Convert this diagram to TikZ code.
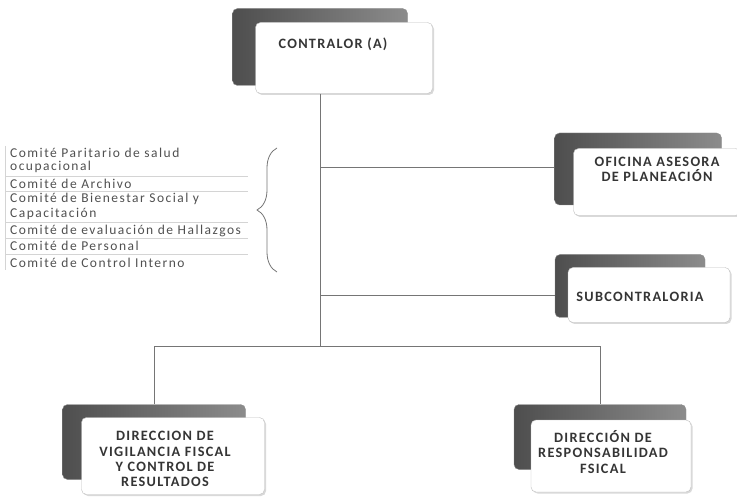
\documentclass[tikz,border=0pt]{standalone}
\usepackage{fontspec}
\setmainfont{Carlito}
\newfontfamily\titlefont[LetterSpace=9]{Carlito}
\newfontfamily\listfont[LetterSpace=11]{Carlito}
\usetikzlibrary{positioning, calc, decorations.pathreplacing, shadows}
\definecolor{inkcolor}{HTML}{353535}
\definecolor{tabfill}{HTML}{4E4E4E}
\definecolor{tabedge}{HTML}{8C8C8C}
\definecolor{linecolor}{HTML}{757575}
\definecolor{mutedtext}{HTML}{505050}
\definecolor{rulecolor}{HTML}{D4D4D4}

\begin{document}
\begin{tikzpicture}[
  x=1pt, y=-1pt, every node/.style={font=\small},
  align=center,
]

\tikzset{
  tabbox/.style={rectangle, rounded corners=5pt, draw=tabedge, left color=tabfill, right color=tabedge},
  unitbox/.style={rectangle, rounded corners=5pt, draw=black!25, fill=white,
    drop shadow={shadow xshift=1.5pt, shadow yshift=-1.5pt, opacity=0.3}},
  unittext/.style={font=\titlefont\bfseries\fontsize{14.3}{15.2}\selectfont, text=inkcolor, inner sep=0pt},
  orgline/.style={draw=linecolor, line width=0.8pt},
  committee/.style={font=\listfont\fontsize{13.5}{14}\selectfont, text=mutedtext, anchor=west, inner sep=0pt},
  tablerule/.style={draw=rulecolor, line width=0.6pt},
}

\useasboundingbox (0,0) rectangle (737,497);

% ---- top ----
\node[tabbox, minimum width=175pt, minimum height=77pt] (contab) at (320,47) {};
\node[unitbox, minimum width=177pt, minimum height=71pt] (contralor) at (344,58) {};
\node[unittext] (contralortxt) at (333,44) {CONTRALOR (A)};

% ---- staff units (right) ----
\node[tabbox, minimum width=167pt, minimum height=72pt] (oficinatab) at (638,169) {};
\node[unitbox, minimum width=167pt, minimum height=67pt] (oficina) at (657,182) {};
\node[unittext] (oficinatxt) at (657,169) {OFICINA ASESORA\\DE PLANEACIÓN};

\node[tabbox, minimum width=150pt, minimum height=63pt] (subtab) at (630,286) {};
\node[unitbox, minimum width=162pt, minimum height=55pt] (sub) at (649,295) {};
\node[unittext] (subtxt) at (640,297) {SUBCONTRALORIA};

% ---- directions (bottom) ----
\node[tabbox, minimum width=183pt, minimum height=75pt] (vigtab) at (154,442) {};
\node[unitbox, minimum width=183pt, minimum height=77pt] (vigilancia) at (173,456) {};
\node[unittext] (vigilanciatxt) at (165,459) {DIRECCION DE\\VIGILANCIA FISCAL\\Y CONTROL DE\\RESULTADOS};

\node[tabbox, minimum width=172pt, minimum height=65pt] (restab) at (600,437) {};
\node[unitbox, minimum width=160pt, minimum height=72pt] (responsabilidad) at (611,456) {};
\node[unittext] (responsabilidadtxt) at (603,452) {DIRECCIÓN DE\\RESPONSABILIDAD\\FSICAL};

\coordinate (split) at (320,346);

\draw[orgline] (contab.center |- contralor.south) -- (split);
\draw[orgline] (oficinatab.west |- 0,167) -- (contab.center |- 0,167);
\draw[orgline] (subtab.west |- 0,295) -- (contab.center |- 0,295);
\draw[orgline] (vigtab.north) -- (vigtab.north |- split) -- (restab.north |- split) -- (restab.north);

% ---- committees ----
\draw[tablerule] (5,146) -- (5,270);
\foreach \ry in {176,191,222,238,254}
  \draw[tablerule] (5,\ry) -- (248,\ry);
\foreach \ry/\rtext [count=\ri] in {153/Comité Paritario de salud, 167/ocupacional,
    184/Comité de Archivo, 199/Comité de Bienestar Social y, 214/Capacitación,
    231/Comité de evaluación de Hallazgos, 246/Comité de Personal, 263/Comité de Control Interno}
  \node[committee] (comite\ri) at (10,\ry) {\rtext};

\draw[decorate, decoration={brace, amplitude=20pt}, draw=linecolor, line width=0.8pt]
  (277,272) -- (277,148);

\end{tikzpicture}
\end{document}
